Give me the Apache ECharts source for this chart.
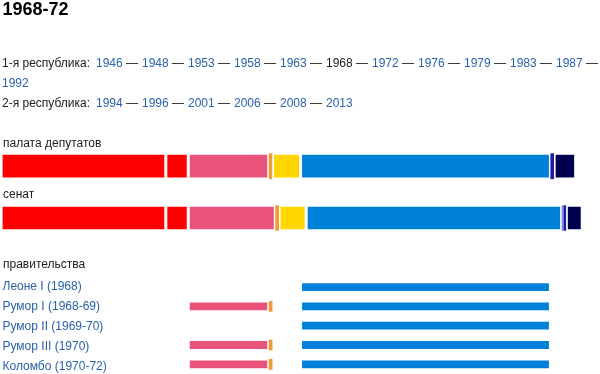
<!DOCTYPE html>
<html><head><meta charset="utf-8">
<script src="https://cdn.jsdelivr.net/npm/echarts@6/dist/echarts.min.js"></script>
<style>html,body{margin:0;padding:0;background:#fff}#c{width:600px;height:374px}</style>
</head><body><div id="c"></div>
<script>
// ---- data ----
const title = '1968-72';
const currentYear = '1968';
const firstRepublicLabel = '1-я республика:';
const firstRepublicYears = ['1946','1948','1953','1958','1963','1968','1972','1976','1979','1983','1987','1992'];
const firstLineYearCount = 11;
const secondRepublicLabel = '2-я республика:';
const secondRepublicYears = ['1994','1996','2001','2006','2008','2013'];
const chamberLabel = 'палата депутатов';
const senateLabel = 'сенат';
const governmentsLabel = 'правительства';
const parties = ['PCI','PSIUP','PSU','PRI','PLI','DC','PDIUM','SVP','MSI'];
const partyColors = ['#FF0000','#FF0000','#E8527B','#F29B37','#FFD600','#0081D9','#8A8AE6','#1E1E9A','#000050'];
const chamberSeats = [176, 24, 86, 4, 30, 267, '-', 4, 23];
const senateSeats  = [176, 24, 93, 4, 29, 273, 2, 3, 17];
const governments = ['Леоне I (1968)','Румор I (1968-69)','Румор II (1969-70)','Румор III (1970)','Коломбо (1970-72)'];
const governmentParties = [['DC'], ['PSU','PRI','DC'], ['DC'], ['PSU','PRI','DC'], ['PSU','PRI','DC']];

// ---- rendering ----
const FONT = '"Liberation Sans", Arial, sans-serif';
const TEXT = '#202122';
const LINK = '#2a62a8';
const AXMAX = 640;

function item(v, color, visible) {
  if (v === '-' || v == null) return '-';
  if (!visible) return { value: v, itemStyle: { color: 'rgba(0,0,0,0)', borderWidth: 0 } };
  return { value: v, itemStyle: { color: color, borderColor: '#fff', borderWidth: v < 5 ? 0 : 1.5 } };
}

const series = [];
parties.forEach((p, i) => {
  const base = { type: 'bar', silent: true, animation: false, clip: false };
  series.push(Object.assign({}, base, { name: p + '-c', stack: 'ch', xAxisIndex: 0, yAxisIndex: 0, barWidth: 25.8,
    data: [item(chamberSeats[i], partyColors[i], true)] }));
  series.push(Object.assign({}, base, { name: p + '-s', stack: 'se', xAxisIndex: 1, yAxisIndex: 1, barWidth: 25.5,
    data: [item(senateSeats[i], partyColors[i], true)] }));
  series.push(Object.assign({}, base, { name: p + '-g', stack: 'gov', xAxisIndex: 2, yAxisIndex: 2, barWidth: 10.8,
    data: governments.map((g, gi) => item(chamberSeats[i], partyColors[i], governmentParties[gi].indexOf(p) >= 0)) }));
});

function yearTokens(years) {
  return years.map(y => (y === currentYear ? '{t|' + y + '}' : '{l|' + y + '}')).join('{s| — }');
}
const rich = {
  t: { fill: TEXT, color: TEXT, font: '12px ' + FONT },
  h: { fill: TEXT, color: TEXT, font: '12px ' + FONT, width: 94 },
  s: { fill: TEXT, color: TEXT, font: '12px ' + FONT, width: 19.3 },
  l: { fill: LINK, color: LINK, font: '12px ' + FONT }
};
function textEl(x, y, text, font, fill) {
  return { type: 'text', x: x, y: y, silent: true,
    style: { text: text, font: font, fill: fill, verticalAlign: 'middle', align: 'left' } };
}
function richEl(x, y, text) {
  return { type: 'text', x: x, y: y, silent: true,
    style: { text: text, rich: rich, font: '12px ' + FONT, fill: TEXT, verticalAlign: 'middle', align: 'left' } };
}
const line1 = '{h|' + firstRepublicLabel + ' }' + yearTokens(firstRepublicYears.slice(0, firstLineYearCount)) + '{t| —}';
const line2 = yearTokens(firstRepublicYears.slice(firstLineYearCount));
const line3 = '{h|' + secondRepublicLabel + ' }' + yearTokens(secondRepublicYears);

const graphics = [
  textEl(2.5, 10.5, title, 'bold 18px ' + FONT, '#000'),
  richEl(2, 63.2, line1),
  richEl(2, 83.2, line2),
  richEl(2, 103.3, line3),
  textEl(3, 143.3, chamberLabel, '12px ' + FONT, TEXT),
  textEl(3, 194.3, senateLabel, '12px ' + FONT, TEXT),
  textEl(3, 264.3, governmentsLabel, '12px ' + FONT, TEXT)
];
governments.forEach((g, i) => graphics.push(textEl(2.5, 286.6 + 19.95 * i, g, '12px ' + FONT, LINK)));

const chart = echarts.init(document.getElementById('c'), null, { renderer: 'canvas' });
chart.setOption({
  animation: false,
  backgroundColor: '#fff',
  grid: [
    { left: 1.1, top: 152, width: 600, height: 28.4 },
    { left: 1.1, top: 204, width: 600, height: 28 },
    { left: 1.1, top: 277.4, width: 600, height: 99 }
  ],
  xAxis: [0, 1, 2].map(i => ({ type: 'value', gridIndex: i, min: 0, max: AXMAX, show: false })),
  yAxis: [
    { type: 'category', gridIndex: 0, data: [chamberLabel], show: false },
    { type: 'category', gridIndex: 1, data: [senateLabel], show: false },
    { type: 'category', gridIndex: 2, data: governments, inverse: true, show: false }
  ],
  series: series,
  graphic: graphics
});
</script>
</body></html>
